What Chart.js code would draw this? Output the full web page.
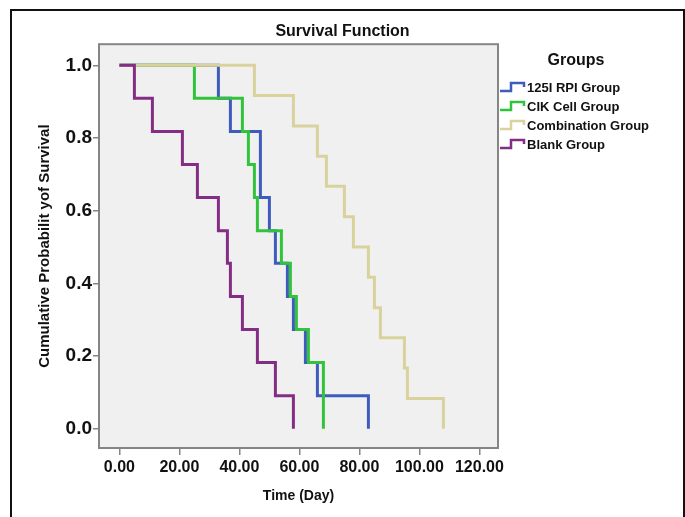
<!DOCTYPE html>
<html>
<head>
<meta charset="utf-8">
<title>Survival Function</title>
<script src="https://cdn.jsdelivr.net/npm/chart.js@4/dist/chart.umd.min.js"></script>
<style>
  html, body { margin: 0; padding: 0; background: #fff; }
  body { width: 685px; height: 517px; position: relative; overflow: hidden; }
  .frame { position: absolute; left: 10px; top: 9px; width: 671px; height: 540px; border: 2px solid #111; }
  #chart { position: absolute; left: 0; top: 0; }
</style>
</head>
<body>
<div class="frame"></div>
<canvas id="chart" width="685" height="517"></canvas>
<script>
// Kaplan-Meier steps: time (days) and survival after each drop
const groupNames = ['125I RPI Group', 'CIK Cell Group', 'Combination Group', 'Blank Group'];

const rpiTimes = [0, 33, 37, 47, 50, 52, 56, 58, 62, 66, 83];
const rpiSurv = [1.0, 0.909, 0.818, 0.636, 0.545, 0.455, 0.364, 0.273, 0.182, 0.091, 0.0];

const cikTimes = [0, 25, 41, 43, 45, 46, 54, 57, 59, 63, 68];
const cikSurv = [1.0, 0.909, 0.818, 0.727, 0.636, 0.545, 0.455, 0.364, 0.273, 0.182, 0.0];

const comboTimes = [0, 45, 58, 66, 69, 75, 78, 83, 85, 87, 95, 96, 108];
const comboSurv = [1.0, 0.917, 0.833, 0.75, 0.667, 0.583, 0.5, 0.417, 0.333, 0.25, 0.167, 0.083, 0.0];

const blankTimes = [0, 5, 11, 21, 26, 33, 36, 37, 41, 46, 52, 58];
const blankSurv = [1.0, 0.909, 0.818, 0.727, 0.636, 0.545, 0.455, 0.364, 0.273, 0.182, 0.091, 0.0];

const xTicks = [0, 20, 40, 60, 80, 100, 120];
const yTicks = [0, 0.2, 0.4, 0.6, 0.8, 1.0];

(() => {
  'use strict';

  const FONT = "'Liberation Sans', Arial, sans-serif";
  const COLORS = ['#3f5bbd', '#31c33c', '#d9d29c', '#842d84'];
  const AXIS_GREY = '#858585';

  function pts(times, surv) { return times.map((t, i) => ({ x: t, y: surv[i] })); }

  const series = [
    pts(rpiTimes, rpiSurv),
    pts(cikTimes, cikSurv),
    pts(comboTimes, comboSurv),
    pts(blankTimes, blankSurv),
  ];

  // later groups sit on top, as in the SPSS output
  const datasets = series.map((data, i) => ({
    label: groupNames[i],
    data,
    xAxisID: 'x',
    yAxisID: 'y',
    stepped: 'before',
    borderColor: COLORS[i],
    borderWidth: 3,
    pointRadius: 0,
    fill: false,
    order: series.length - i,
  }));

  const plotBox = {
    id: 'plotBox',
    beforeDatasetsDraw(chart) {
      const { ctx, chartArea: a } = chart;
      ctx.save();
      ctx.fillStyle = '#f0f0f0';
      ctx.fillRect(a.left, a.top, a.right - a.left, a.bottom - a.top);
      ctx.restore();
    },
    afterDatasetsDraw(chart) {
      const { ctx, chartArea: a } = chart;
      ctx.save();
      ctx.strokeStyle = AXIS_GREY;
      ctx.lineWidth = 2;
      ctx.strokeRect(a.left, a.top, a.right - a.left, a.bottom - a.top);
      ctx.restore();
    },
  };

  // SPSS-style legend: little step glyph + bold label, heading "Groups"
  const groupLegend = {
    id: 'groupLegend',
    afterDraw(chart) {
      const { ctx, chartArea: a } = chart;
      const x0 = a.right + 2;
      ctx.save();
      ctx.fillStyle = '#111';
      ctx.textBaseline = 'middle';
      ctx.font = `bold 16px ${FONT}`;
      ctx.textAlign = 'center';
      ctx.fillText('Groups', x0 + 76, 61);
      ctx.font = `bold 13px ${FONT}`;
      ctx.textAlign = 'left';
      chart.data.datasets.forEach((ds, i) => {
        const cy = 88 + i * 19;
        ctx.strokeStyle = ds.borderColor;
        ctx.lineWidth = 2.5;
        ctx.beginPath();
        ctx.moveTo(x0, cy + 3);
        ctx.lineTo(x0 + 11, cy + 3);
        ctx.lineTo(x0 + 11, cy - 5);
        ctx.lineTo(x0 + 24, cy - 5);
        ctx.lineTo(x0 + 24, cy - 1);
        ctx.stroke();
        ctx.fillText(ds.label, x0 + 27, cy);
      });
      ctx.restore();
    },
  };

  new Chart(document.getElementById('chart'), {
    type: 'line',
    data: { datasets },
    options: {
      responsive: false,
      animation: false,
      devicePixelRatio: 1,
      layout: { padding: 0 },
      plugins: {
        legend: { display: false },
        tooltip: { enabled: false },
        title: {
          display: true,
          text: 'Survival Function',
          color: '#111',
          font: { family: FONT, size: 16, weight: 'bold' },
          padding: { top: 22, bottom: 3 },
        },
      },
      scales: {
        x: {
          type: 'linear',
          min: -6.8,
          max: 126.2,
          afterBuildTicks: s => { s.ticks = xTicks.map(v => ({ value: v })); },
          afterFit: s => { s.height = 69; },
          ticks: {
            color: '#111',
            font: { family: FONT, size: 16, weight: 'bold' },
            padding: 3,
            maxRotation: 0,
            callback: v => Number(v).toFixed(2),
          },
          grid: { drawOnChartArea: false, tickLength: 7, color: AXIS_GREY, lineWidth: 1.5 },
          border: { display: false },
          title: {
            display: true,
            text: 'Time (Day)',
            color: '#111',
            font: { family: FONT, size: 14, weight: 'bold' },
            padding: { top: 0, bottom: 12 },
          },
        },
        y: {
          type: 'linear',
          position: 'left',
          min: -0.053,
          max: 1.058,
          afterBuildTicks: s => { s.ticks = yTicks.map(v => ({ value: v })); },
          afterFit: s => { s.width = 99; },
          ticks: {
            color: '#111',
            font: { family: FONT, size: 19, weight: 'bold' },
            padding: 1,
            callback: v => Number(v).toFixed(1),
          },
          grid: { drawOnChartArea: false, tickLength: 6, color: AXIS_GREY, lineWidth: 1.5 },
          border: { display: false },
          title: {
            display: true,
            text: 'Cumulative Probabilit yof Survival',
            color: '#111',
            font: { family: FONT, size: 15, weight: 'bold' },
            padding: { top: 36, bottom: 0 },
          },
        },
        // empty right-hand axis that only reserves room for the legend
        yPad: {
          axis: 'y',
          type: 'linear',
          position: 'right',
          display: true,
          afterFit: s => { s.width = 187; },
          ticks: { display: false },
          grid: { display: false },
          border: { display: false },
        },
      },
    },
    plugins: [plotBox, groupLegend],
  });
})();
</script>
</body>
</html>
